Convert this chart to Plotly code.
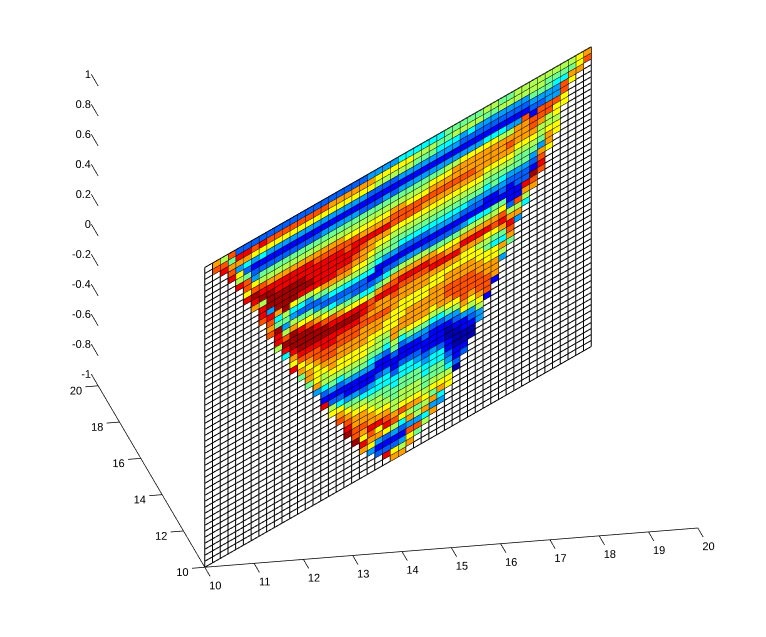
import plotly.graph_objects as go

# colour level of every cell, column by column (left to right), top row first
c00 = []
c01 = [8,9]
c02 = [6,9,10]
c03 = [9,5,8,9,10]
c04 = [2,10,8,3,7,6,10]
c05 = [2,10,8,4,2,5,9,9,7,10]
c06 = [2,9,7,3,1,2,3,7,9,11,10,8]
c07 = [2,10,7,4,1,2,5,6,9,10,11,6,10,10,9]
c08 = [2,9,7,3,1,2,5,6,8,10,11,11,11,3,10,9,8,9]
c09 = [2,9,7,3,1,2,5,6,8,10,10,11,11,11,8,4,5,11,10,10,6]
c10 = [2,9,7,3,1,2,5,6,8,10,10,11,11,11,11,6,5,3,6,9,11,10,4]
c11 = [2,9,7,3,1,2,5,6,8,10,10,11,11,11,7,4,3,6,8,11,11,11,10,8,7,10]
c12 = [2,9,7,3,1,2,5,6,8,10,10,11,11,10,6,4,2,5,7,10,11,11,11,10,9,7,8,5]
c13 = [2,9,7,3,1,2,5,6,8,10,10,10,11,10,6,3,2,5,7,9,11,11,11,10,9,8,7,8,8,5]
c14 = [2,9,7,3,1,2,5,6,8,9,10,10,10,10,7,5,2,3,6,8,10,11,11,10,9,9,8,7,7,7,8,3]
c15 = [2,9,7,3,1,3,5,6,8,9,10,10,10,10,8,5,3,2,5,7,9,11,11,10,10,9,9,8,7,6,6,4,2,1,10]
c16 = [2,8,7,3,1,3,5,6,8,9,10,10,10,10,8,6,4,2,4,6,9,10,11,10,10,9,9,8,8,7,6,5,3,1,2,6,7]
c17 = [2,8,7,3,1,3,5,6,8,9,10,10,10,9,8,6,4,2,3,6,8,10,11,10,9,9,8,8,7,7,6,4,2,1,2,4,7,8,9]
c18 = [2,8,7,3,1,3,5,6,7,9,9,10,10,9,8,6,4,2,3,5,7,10,11,10,9,9,8,8,7,7,6,5,3,1,1,3,5,7,8,9,10,11]
c19 = [2,8,7,3,1,3,5,6,7,9,10,10,9,8,7,6,4,2,2,5,7,10,11,10,9,9,8,8,7,7,6,5,3,1,1,3,5,6,7,8,8,9,9,11]
c20 = [2,8,7,3,1,2,5,6,7,8,10,9,8,8,7,6,4,2,2,4,7,10,10,9,9,8,8,8,7,7,6,5,3,1,1,2,4,6,7,8,8,9,8,7,10,8]
c21 = [3,8,7,2,1,2,5,6,7,8,10,8,8,7,6,5,4,1,2,4,6,9,9,8,9,8,8,7,7,6,5,4,3,1,1,3,4,5,6,7,8,8,10,9,8,7,3]
c22 = [3,7,6,2,1,2,5,6,7,8,10,8,7,6,5,4,1,1,3,5,8,10,8,8,9,8,8,7,6,6,5,3,1,1,2,4,4,5,6,6,7,8,10,7,8,3,1,2]
c23 = [3,7,6,2,1,3,5,6,7,8,10,8,7,6,5,3,1,2,4,6,9,10,8,8,9,8,7,7,6,5,4,2,1,1,3,4,4,5,5,6,7,8,9,10,7,2,1,2,10]
c24 = [3,7,6,2,1,2,5,6,8,9,9,7,6,5,5,3,1,2,5,8,9,10,9,8,8,7,7,7,8,8,6,5,2,1,1,2,4,4,5,5,6,6,8,9,6,3,1,2,7,8]
c25 = [4,7,6,3,1,3,5,6,8,9,9,7,6,5,4,2,1,3,6,8,10,9,8,8,7,7,7,8,8,6,4,2,1,1,2,4,4,5,5,6,6,7,9,7,4,2,1,3,6,8]
c26 = [4,7,6,3,1,3,5,6,7,9,9,7,6,5,4,2,1,3,6,8,10,9,8,8,7,7,8,8,8,7,5,3,1,1,2,4,4,5,5,6,6,7,8,6,8,3,9,7,8]
c27 = [4,6,5,3,1,3,5,6,7,9,9,7,6,5,4,2,1,3,6,8,10,9,8,8,7,7,8,8,8,7,5,3,1,1,2,3,4,5,5,6,6,7,8,5,6,3,9,5]
c28 = [4,6,5,3,1,3,5,6,7,9,8,7,6,5,4,2,1,2,6,8,10,9,8,8,7,7,8,8,8,7,5,3,2,1,1,2,3,4,4,5,5,6,7,6,8,4,6]
c29 = [4,6,5,3,1,3,5,7,8,9,8,7,6,5,4,3,1,2,5,8,9,10,8,7,7,8,8,8,7,6,4,2,1,1,1,3,4,4,5,5,6,7,5,8,3,8]
c30 = [4,5,4,3,1,3,5,7,8,9,8,7,6,5,4,3,1,2,5,7,9,10,8,7,7,8,8,8,8,6,4,2,1,1,1,2,4,4,5,5,6,7,8,4,3]
c31 = [5,5,4,3,1,3,6,7,8,9,8,7,6,5,4,3,1,2,5,7,8,10,8,7,8,8,9,9,8,7,5,3,1,0,0,1,1,2,3,4,6,7,7]
c32 = [5,6,4,3,1,3,6,8,8,9,8,7,6,5,4,3,1,2,5,7,8,10,8,7,8,8,9,9,9,7,6,3,2,1,0,0,0,1,1,2,0]
c33 = [5,6,3,2,1,3,7,8,8,9,8,7,6,5,4,2,1,3,6,8,10,8,7,7,8,8,9,9,9,9,8,7,3,1,1,0,0,1,2]
c34 = [5,6,4,2,1,3,7,8,8,9,8,7,6,5,3,2,1,4,6,8,10,8,7,7,8,8,9,9,9,8,7,6,3,2,1,0,0]
c35 = [5,6,3,2,1,3,7,8,8,8,8,7,6,5,3,2,1,4,6,8,10,8,6,7,7,8,8,9,9,9,8,7,6,3,3]
c36 = [6,5,3,2,1,4,7,8,8,8,7,6,5,4,3,1,1,4,6,8,10,7,6,5,7,7,8,8,9,9,9,1]
c37 = [6,5,3,2,1,4,7,8,8,8,7,6,5,5,3,1,1,5,6,8,9,7,5,4,7,7,8,8,8,1]
c38 = [5,6,3,2,1,4,6,8,8,8,7,6,5,4,3,2,1,5,7,9,10,8,5,4,8,6,3]
c39 = [5,6,3,2,1,3,6,8,9,8,7,6,5,3,2,1,1,1,2,6,8,10,9,8,5]
c40 = [6,6,3,2,1,3,8,8,8,7,6,5,5,3,2,2,1,1,9,6,8,3]
c41 = [6,6,3,2,1,9,8,8,8,7,6,5,5,3,2,2,10,8,6,4]
c42 = [6,6,5,3,2,1,9,9,8,7,6,5,3,2,1,11,9,8]
c43 = [6,6,5,3,2,9,9,8,6,6,5,3,8,9,10,9]
c44 = [6,5,5,3,3,9,9,6,6,7,8,8,7]
c45 = [6,5,4,3,3,9,7,7,6,7,7]
c46 = [6,5,4,9,9,7,7]
c47 = [6,5,8,7]
c48 = [7,7,8]
c49 = [8,9]
columns = [c00,c01,c02,c03,c04,c05,c06,c07,c08,c09,c10,c11,c12,c13,c14,c15,c16,c17,c18,c19,
           c20,c21,c22,c23,c24,c25,c26,c27,c28,c29,c30,c31,c32,c33,c34,c35,c36,c37,c38,c39,
           c40,c41,c42,c43,c44,c45,c46,c47,c48,c49]

level_colors = ["#0000B0","#0000FF","#0060FF","#00A0FF","#00FFFF","#70FF90",
                "#B0FF50","#FFFF00","#FFA000","#FF5000","#F00000","#A00000"]
x_ticks = [10,11,12,13,14,15,16,17,18,19,20]
y_ticks = [10,12,14,16,18,20]
z_ticks = [-1,-0.8,-0.6,-0.4,-0.2,0,0.2,0.4,0.6,0.8,1]

N = 50
xv = [10 + 10*i/N for i in range(N+1)]
zv = [1 - 2*j/N for j in range(N+1)]

vx, vy, vz = [], [], []
for i in range(N+1):
    for j in range(N+1):
        vx.append(xv[i]); vy.append(xv[i]); vz.append(zv[j])
def vid(i, j):
    return i*(N+1) + j
ti, tj, tk, inten = [], [], [], []
for i, col in enumerate(columns):
    for j, lv in enumerate(col):
        ti += [vid(i,j), vid(i,j)]
        tj += [vid(i+1,j), vid(i+1,j+1)]
        tk += [vid(i+1,j+1), vid(i,j+1)]
        inten += [lv, lv]

cs = [[k/11, c] for k, c in enumerate(level_colors)]
fig = go.Figure()
fig.add_trace(go.Mesh3d(x=vx, y=vy, z=vz, i=ti, j=tj, k=tk, intensity=inten, intensitymode="cell",
                        colorscale=cs, cmin=0, cmax=11, showscale=False, flatshading=True,
                        lighting=dict(ambient=1, diffuse=0, specular=0, fresnel=0, roughness=1),
                        hoverinfo="skip"))
lx, ly, lz = [], [], []
for i in range(N+1):
    lx += [xv[i], xv[i], None]; ly += [xv[i], xv[i], None]; lz += [1, -1, None]
for j in range(N+1):
    lx += [10, 20, None]; ly += [10, 20, None]; lz += [zv[j], zv[j], None]
fig.add_trace(go.Scatter3d(x=lx, y=ly, z=lz, mode="lines", line=dict(color="black", width=2),
                           hoverinfo="skip", showlegend=False))

# axes and ticks
ax_x, ax_y, ax_z = [10,20,None,10,10,None], [10,10,None,10,20,None], [-1,-1,None,-1,-1,None]
for v in x_ticks:
    ax_x += [v,v,None]; ax_y += [10,9.5,None]; ax_z += [-1,-1,None]
for v in y_ticks:
    ax_x += [10,9.74,None]; ax_y += [v,v,None]; ax_z += [-1,-1,None]
for v in z_ticks:
    ax_x += [10,10,None]; ax_y += [20,20.65,None]; ax_z += [v,v,None]
fig.add_trace(go.Scatter3d(x=ax_x, y=ax_y, z=ax_z, mode="lines", line=dict(color="black", width=1.5),
                           hoverinfo="skip", showlegend=False))
font = dict(family="Liberation Sans", size=11, color="black")
fig.add_trace(go.Scatter3d(x=x_ticks, y=[9.0]*len(x_ticks), z=[-1]*len(x_ticks), mode="text",
                           text=[str(v) for v in x_ticks], textposition="middle center", textfont=font,
                           hoverinfo="skip", showlegend=False))
fig.add_trace(go.Scatter3d(x=[9.55]*len(y_ticks), y=y_ticks, z=[-1.02]*len(y_ticks), mode="text",
                           text=[str(v) for v in y_ticks], textposition="middle center", textfont=font,
                           hoverinfo="skip", showlegend=False))
fig.add_trace(go.Scatter3d(x=[10.25]*len(z_ticks), y=[20.85]*len(z_ticks), z=[v-0.03 for v in z_ticks], mode="text",
                           text=[str(v) for v in z_ticks], textposition="middle left", textfont=font,
                           hoverinfo="skip", showlegend=False))

hidden = dict(visible=False)
R = 4.0
eye = dict(x=-0.1965*R, y=-0.9087*R, z=0.368*R)
fig.update_layout(
    width=766, height=637, paper_bgcolor="white", margin=dict(l=0, r=0, t=0, b=0), showlegend=False,
    scene=dict(domain=dict(x=[0.0184,1], y=[0.0612,1]),
               xaxis=dict(range=[8,22], **hidden), yaxis=dict(range=[8,22], **hidden), zaxis=dict(range=[-1.2,1.2], **hidden),
               aspectmode="manual", aspectratio=dict(x=2.362,y=2.362,z=1.294),
               camera=dict(eye=eye, up=dict(x=0,y=0,z=1), center=dict(x=0,y=0,z=0),
                           projection=dict(type="orthographic"))))
fig.write_html("out.html")
